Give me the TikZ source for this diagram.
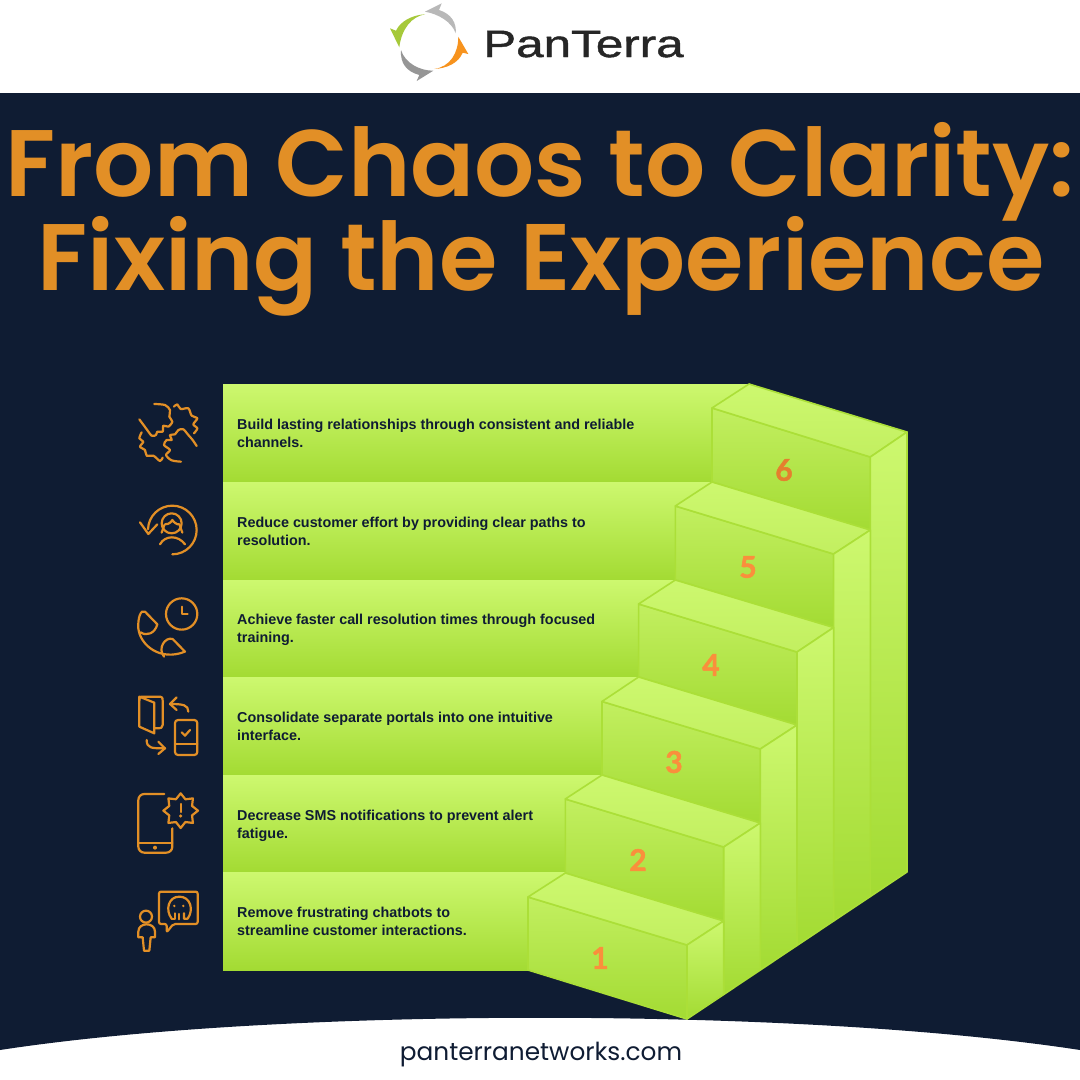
\documentclass[tikz,border=0pt]{standalone}
\usepackage{fontspec}
\setmainfont{Poppins}
\newfontfamily\titlefont{Poppins SemiBold}
\newfontfamily\bodyfont{Liberation Sans}
\newfontfamily\logofont[FakeStretch=1.3,FakeBold=1.2]{Liberation Sans}
\newfontfamily\numfont[FakeBold=1.6]{Lato}
\definecolor{navy}{HTML}{0F1C33}
\definecolor{titleorange}{HTML}{E28F26}
\definecolor{numorange}{HTML}{FA8F3C}
\definecolor{sixorange}{HTML}{E57F2E}
\definecolor{stepedge}{HTML}{ABDF38}
\definecolor{steptop}{HTML}{CDF86F}
\definecolor{facetop}{HTML}{C2EF60}
\definecolor{stepbottom}{HTML}{A3DB33}
\definecolor{logogreen}{HTML}{A6C93A}
\definecolor{logoorange}{HTML}{F7931E}
\definecolor{logograylight}{HTML}{B8B8B8}
\definecolor{logograydark}{HTML}{969696}
\tikzset{
	bar/.style={top color=steptop, bottom color=stepbottom},
	face/.style={top color=facetop, bottom color=stepbottom, draw=stepedge, line width=1.6pt, line join=round},
	side/.style={top color=steptop, bottom color=stepbottom, draw=stepedge, line width=1.6pt, line join=round},
	tread/.style={top color=steptop, bottom color=facetop, draw=stepedge, line width=1.6pt, line join=round},
	lbl/.style={anchor=west, align=left, inner sep=0pt, text=navy, font=\bodyfont\bfseries\fontsize{14.35}{18}\selectfont},
	num/.style={text=numorange, inner sep=0pt, font=\numfont\bfseries\fontsize{30}{30}\selectfont},
	title/.style={anchor=base, inner sep=0pt, text=titleorange, font=\titlefont\fontsize{94.5}{94.5}\selectfont},
	icon/.style={draw=titleorange, line width=2.2pt, line cap=round, line join=round}
}
\begin{document}
\begin{tikzpicture}[x=1pt, y=-1pt]
	\useasboundingbox (0,0) rectangle (1080,1080);
	\fill[white] (0,0) rectangle (1080,1080);
	\fill[navy] (0,93) -- (1080,93) -- (1080,1050) .. controls (800,1007) and (280,1007) .. (0,1050) -- cycle;
	\fill[logograylight] (455.7,33.3) .. controls (451.7,21.7) and (438.3,14) .. (425,11.7) -- (441.7,3.3) -- (439,10) .. controls (451.7,14) and (456.7,23.3) .. (455.7,33.3) -- cycle;
	\fill[logograydark] (401,50) .. controls (405,63.3) and (420,70.7) .. (433.3,70.7) -- (416.7,81) -- (419.3,75) .. controls (406.7,71.7) and (400,63.3) .. (401,50) -- cycle;
	\fill[logoorange] (434.3,69) .. controls (450,66.7) and (458.3,53.3) .. (458.3,36.7) -- (468.3,54) -- (462.7,52.7) .. controls (458.3,63.3) and (446.7,68.3) .. (434.3,69) -- cycle;
	\fill[logogreen] (425,14.3) .. controls (411.7,16.7) and (401.7,28.3) .. (399.3,47.3) -- (390,28.3) -- (396,30.7) .. controls (400,21.7) and (411.7,15) .. (425,14.3) -- cycle;
	\node[anchor=base west, inner sep=0pt, text=black!85, font=\logofont\fontsize{38}{38}\selectfont] (brand) at (483,57) {PanTerra};
	\node[title] (titleone) at (540,196) {From Chaos to Clarity:};
	\node[title] (titletwo) at (541,290) {Fixing the Experience};
	\node[anchor=base, inner sep=0pt, text=navy, font=\fontsize{24.8}{24.8}\selectfont] (site) at (541,1060) {panterranetworks.com};

	\fill[bar] (223,384) rectangle (749,482);
	\fill[bar] (223,482) rectangle (712,580);
	\fill[bar] (223,580) rectangle (675,677);
	\fill[bar] (223,677) rectangle (639,775);
	\fill[bar] (223,775) rectangle (602,872);
	\fill[bar] (223,872) rectangle (565,970);

	\draw[face] (712,408)--(870.3,457)--(870.3,530)--(712,482)--cycle;
	\draw[face] (675.3,506)--(833.6,554)--(833.6,627.5)--(675.3,580)--cycle;
	\draw[face] (638.6,604)--(797,652)--(797,725)--(638.6,677)--cycle;
	\draw[face] (602,701.5)--(760.3,749)--(760.3,823)--(602,775)--cycle;
	\draw[face] (565.3,799)--(723.7,847)--(723.7,921)--(565.3,873)--cycle;
	\draw[face] (528,897)--(687,945)--(687,1019)--(528,970)--cycle;

	\draw[tread] (712,408)--(749,384)--(907,432)--(870.3,457)--cycle;
	\draw[tread] (675.3,506)--(712,482)--(870.3,530)--(833.6,554)--cycle;
	\draw[tread] (638.6,604)--(675.3,580)--(833.6,627.5)--(797,652)--cycle;
	\draw[tread] (602,701.5)--(638.6,677)--(797,725)--(760.3,749)--cycle;
	\draw[tread] (565.3,799)--(602,775)--(760.3,823)--(723.7,847)--cycle;
	\draw[tread] (528,897)--(565.3,873)--(723.7,921)--(687,945)--cycle;

	\draw[side] (870.3,457)--(907,432)--(907,872)--(870.3,896.5)--cycle;
	\draw[side] (833.6,554)--(870.3,530)--(870.3,896.5)--(833.6,921)--cycle;
	\draw[side] (797,652)--(833.6,627.5)--(833.6,921)--(797,945.5)--cycle;
	\draw[side] (760.3,749)--(797,725)--(797,945.5)--(760.3,970)--cycle;
	\draw[side] (723.7,847)--(760.3,823)--(760.3,970)--(723.7,994.5)--cycle;
	\draw[side] (687,945)--(723.7,921)--(723.7,994.5)--(687,1019)--cycle;

	\node[num, text=sixorange] (six) at (784,470) {6};
	\node[num] (five) at (748,567) {5};
	\node[num] (four) at (711,665) {4};
	\node[num] (three) at (674,762) {3};
	\node[num] (two) at (638,860) {2};
	\node[num] (one) at (600,958) {1};

	\node[lbl] (lblsix) at (237,433) {Build lasting relationships through consistent and reliable\\channels.};
	\node[lbl] (lblfive) at (237,531) {Reduce customer effort by providing clear paths to\\resolution.};
	\node[lbl] (lblfour) at (237,630) {Achieve faster call resolution times through focused\\training.};
	\node[lbl] (lblthree) at (237,726) {Consolidate separate portals into one intuitive\\interface.};
	\node[lbl] (lbltwo) at (237,826) {Decrease SMS notifications to prevent alert\\fatigue.};
	\node[lbl] (lblone) at (237,921) {Remove frustrating chatbots to\\streamline customer interactions.};

	\begin{scope}[shift={(120,385)}, x=0.3333pt, y=-0.3333pt]
		\draw[icon] plot[smooth] coordinates {(103,57) (135,60) (150,75) (148,95) (157,110) (145,125) (130,122) (128,140) (112,140) (108,150) (95,152) (78,130) (58,103)};
		\draw[icon] plot[smooth] coordinates {(65,142) (58,160) (70,170) (60,185) (75,195) (80,212) (100,212) (120,228) (128,218)};
		\draw[icon] plot[smooth] coordinates {(183,230) (155,226) (138,210) (150,195) (132,180) (140,165) (155,165) (150,150) (165,148) (175,135) (190,133) (205,150) (218,165) (230,183)};
		\draw[icon] plot[smooth] coordinates {(162,65) (172,58) (182,72) (205,70) (215,92) (232,100) (220,118) (232,130) (222,145)};
		\draw[icon] (157,508) arc (90:-178:73);
		\draw[icon] (60,412)--(85,447)--(112,418);
		\draw[icon] (155,415) circle (30);
		\draw[icon] (135,418) .. controls (150,418) and (155,408) .. (157,405) .. controls (160,410) and (170,420) .. (178,418);
		\draw[icon] (125,443)--(133,420);
		\draw[icon] (187,443)--(179,420);
		\draw[icon] (120,478) .. controls (135,450) and (175,450) .. (195,478);
		\draw[icon] (185,687) circle (47);
		\draw[icon] (187,665)--(187,688)--(203,688);
		\draw[icon] (62,742) .. controls (80,755) and (105,745) .. (112,718) -- (75,680) .. controls (62,672) and (53,700) .. (55,730) .. controls (60,780) and (120,830) .. (195,800) -- (158,762) .. controls (135,755) and (112,790) .. (132,815);
	\end{scope}

	\begin{scope}[shift={(120,680)}, x=0.3333pt, y=-0.3333pt]
		\draw[icon] (58,62) .. controls (58,50) and (60,50) .. (70,50) -- (116,50) .. controls (126,50) and (128,52) .. (128,62) -- (128,135) .. controls (128,143) and (122,145) .. (116,145) -- (103,145);
		\draw[icon] (58,50)--(103,68)--(103,160)--(58,140)--cycle;
		\draw[icon] (205,95) .. controls (205,75) and (190,72) .. (150,72);
		\draw[icon] (170,52)--(150,72)--(170,90);
		\draw[icon] (80,180) .. controls (80,205) and (95,205) .. (135,205);
		\draw[icon] (115,185)--(135,205)--(115,222);
		\draw[icon, rounded corners=3pt] (165,120) rectangle (232,225);
		\draw[icon] (165,192)--(232,192);
		\draw[icon] (185,157)--(195,167)--(210,150);
		\draw[icon, rounded corners=6pt] (133,342)--(55,342)--(55,518)--(157,518)--(157,445);
		\draw[icon] (55,488)--(157,488);
		\fill[titleorange] (105,503) circle (6);
		\draw[icon, shift={(182,392)}] (90:52)--(112.5:37)--(135:52)--(157.5:37)--(180:52)--(202.5:37)--(225:52)--(247.5:37)--(270:52)--(292.5:37)--(315:52)--(337.5:37)--(0:52)--(22.5:37)--(45:52)--(67.5:37)--cycle;
		\draw[icon] (182,372)--(182,396);
		\fill[titleorange] (182,408) circle (5);
		\draw[icon] (78,710) circle (18);
		\draw[icon] (72,812)--(68,772)--(55,772)--(55,755) .. controls (55,740) and (68,733) .. (80,733) .. controls (92,733) and (105,740) .. (105,755) -- (105,772)--(92,772)--(88,812)--cycle;
		\draw[icon, rounded corners=2pt] (160,732)--(233,732)--(233,635)--(117,635)--(117,732)--(140,732)--(140,757)--cycle;
		\draw[icon] (155,716) .. controls (135,690) and (145,650) .. (178,650) .. controls (212,650) and (222,690) .. (203,716) -- (192,716) -- (192,700);
		\draw[icon] (155,716)--(165,716)--(165,700);
		\draw[icon] (178,702)--(178,718);
		\fill[titleorange] (163,678) circle (4);
		\fill[titleorange] (190,678) circle (4);
	\end{scope}
\end{tikzpicture}
\end{document}
